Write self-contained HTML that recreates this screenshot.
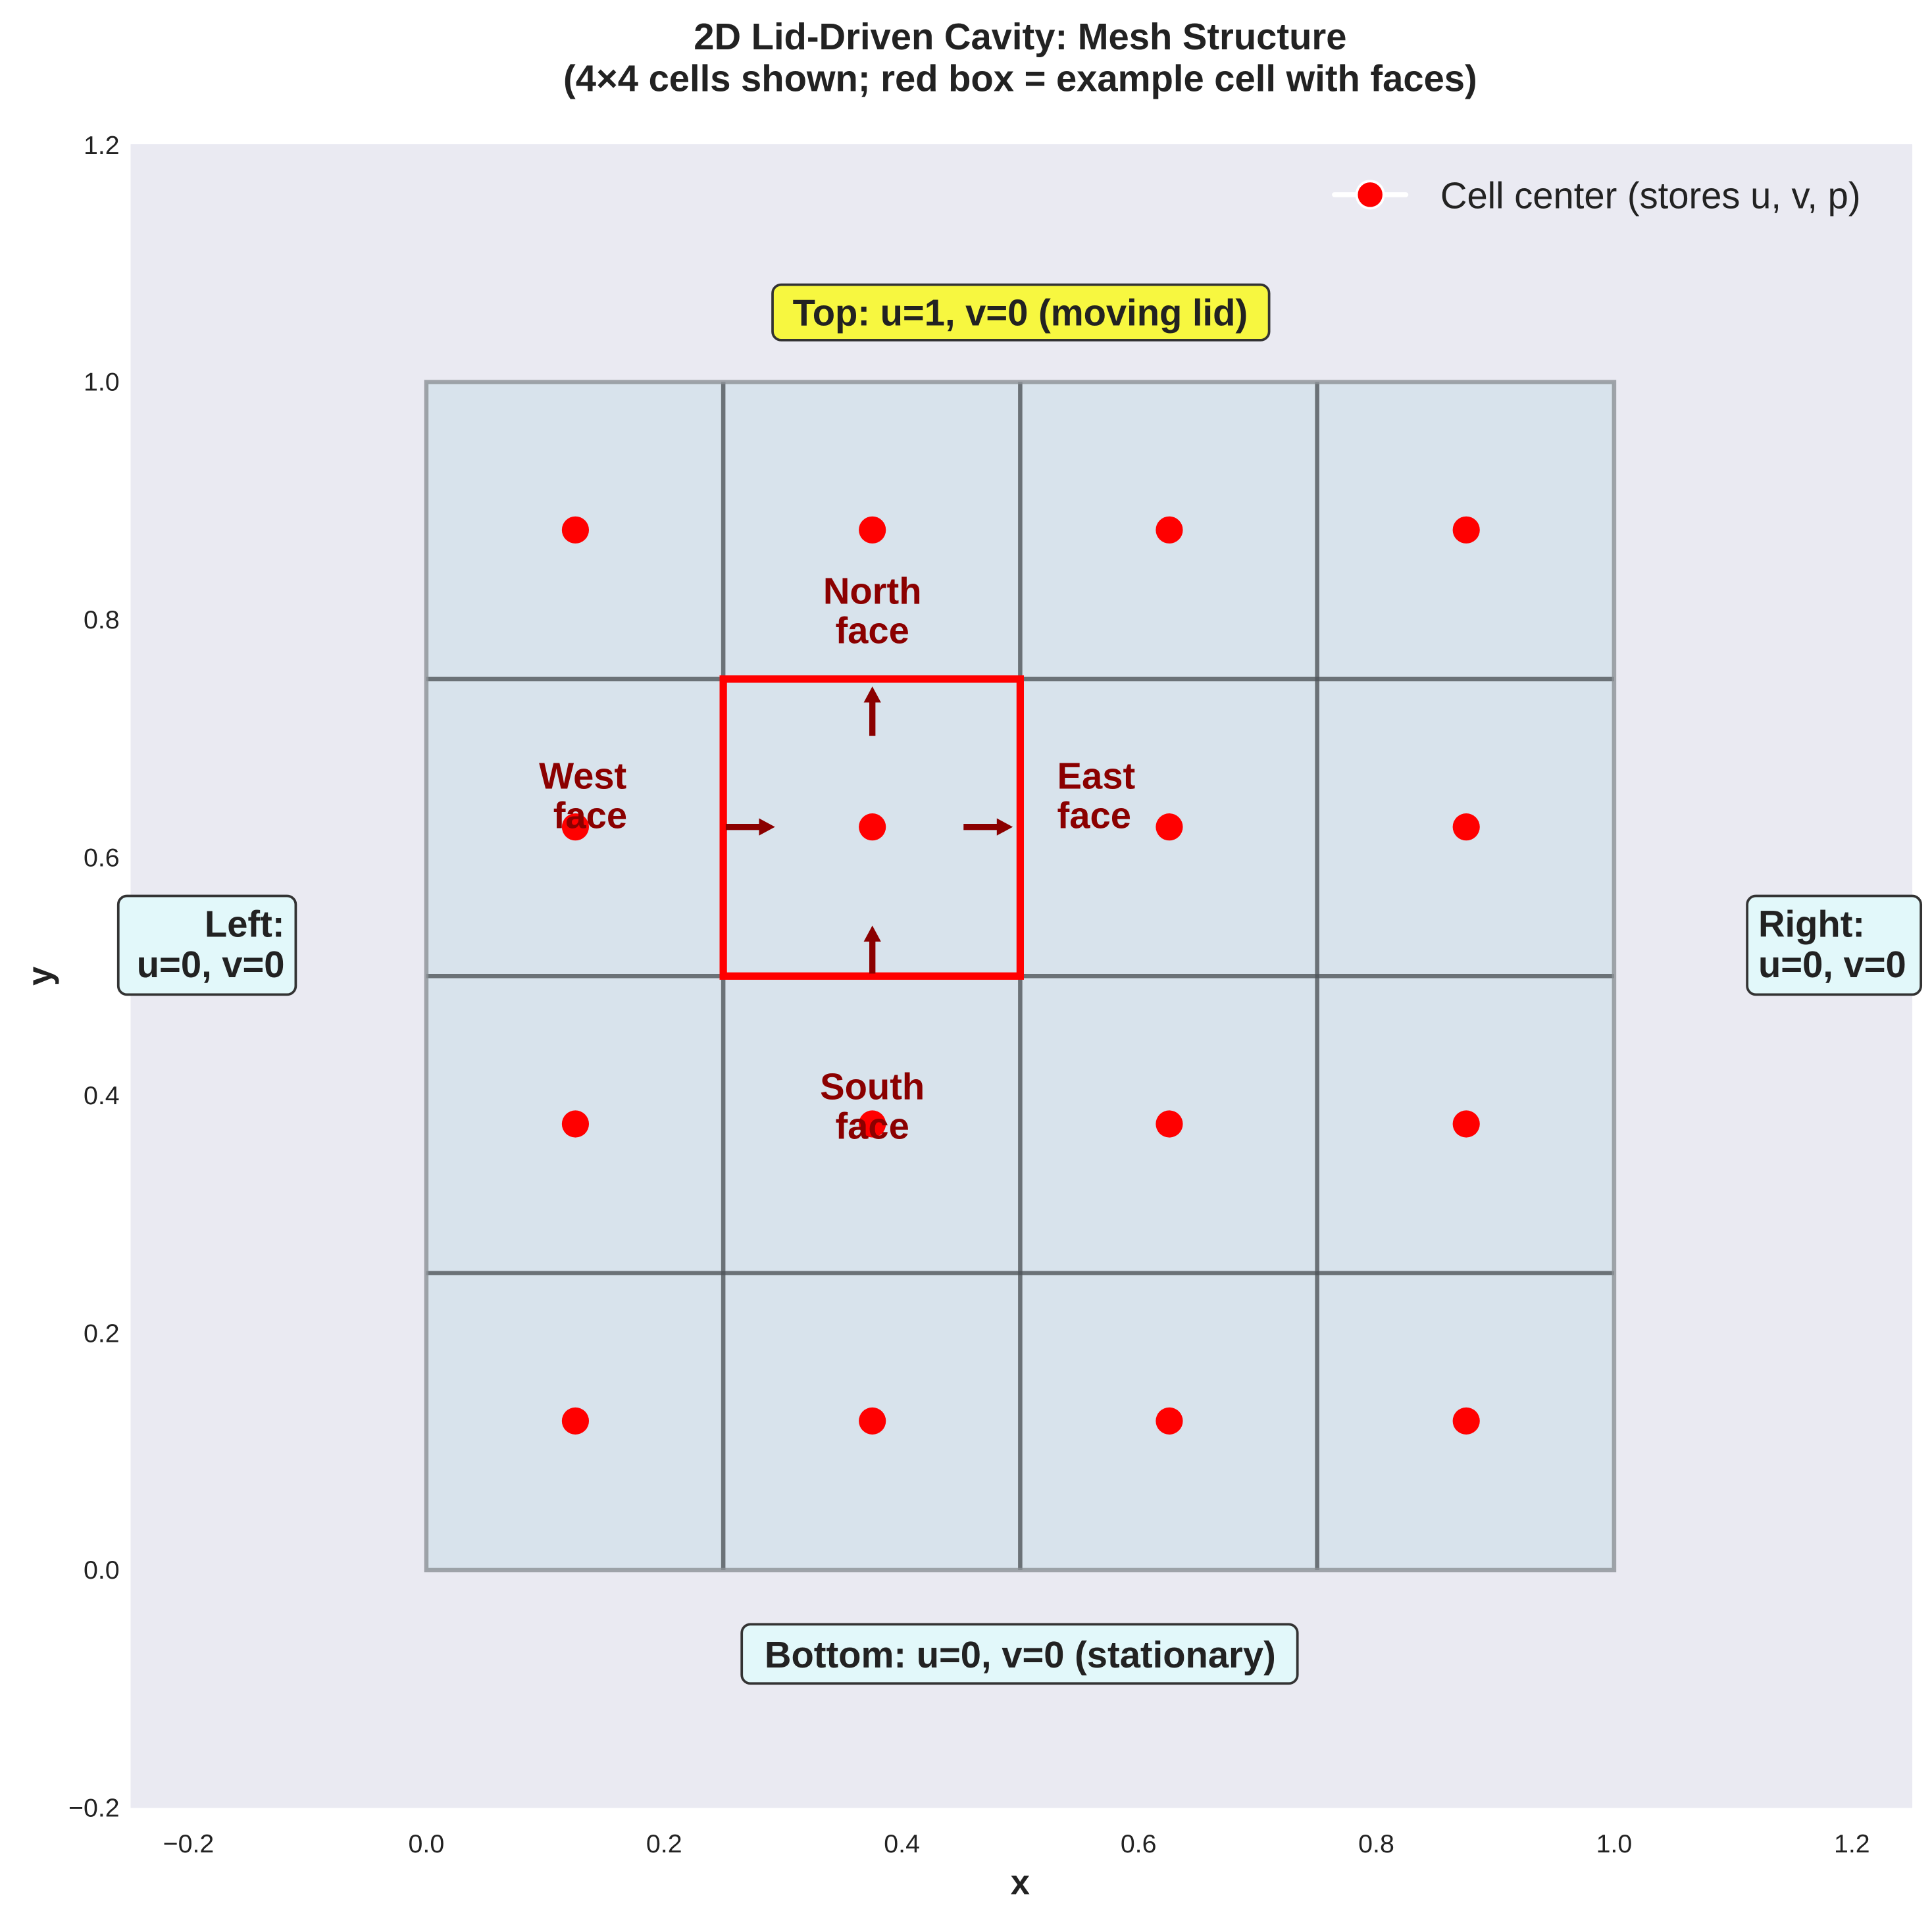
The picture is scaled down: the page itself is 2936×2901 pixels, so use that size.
<!DOCTYPE html>
<html><head><style>html,body{margin:0;padding:0;background:#fff}svg{display:block}</style></head>
<body>
<svg width="2936" height="2901" viewBox="0 0 1568 1549" preserveAspectRatio="none" xmlns="http://www.w3.org/2000/svg" font-family="Liberation Sans, DejaVu Sans, sans-serif">
<rect width="1568" height="1549" fill="#fff"/>
<rect x="106" y="117" width="1446" height="1350" fill="#eaeaf2"/>
<rect x="346" y="310" width="964" height="964" fill="#d8e3ec"/>
<g stroke="#50555a" stroke-opacity="0.8" stroke-width="3.5">
<line x1="587" y1="310" x2="587" y2="1274"/><line x1="828" y1="310" x2="828" y2="1274"/><line x1="1069" y1="310" x2="1069" y2="1274"/>
<line x1="346" y1="551" x2="1310" y2="551"/><line x1="346" y1="792" x2="1310" y2="792"/><line x1="346" y1="1033" x2="1310" y2="1033"/>
</g>
<rect x="346" y="310" width="964" height="964" fill="none" stroke="#8c9196" stroke-opacity="0.8" stroke-width="3.5"/>
<rect x="587" y="551" width="241" height="241" fill="none" stroke="#ff0000" stroke-width="6"/>
<g fill="#ff0000">
<circle cx="467" cy="430" r="11"/><circle cx="708" cy="430" r="11"/><circle cx="949" cy="430" r="11"/><circle cx="1190" cy="430" r="11"/>
<circle cx="467" cy="671" r="11"/><circle cx="708" cy="671" r="11"/><circle cx="949" cy="671" r="11"/><circle cx="1190" cy="671" r="11"/>
<circle cx="467" cy="912" r="11"/><circle cx="708" cy="912" r="11"/><circle cx="949" cy="912" r="11"/><circle cx="1190" cy="912" r="11"/>
<circle cx="467" cy="1153" r="11"/><circle cx="708" cy="1153" r="11"/><circle cx="949" cy="1153" r="11"/><circle cx="1190" cy="1153" r="11"/>
</g>
<g stroke="#8b0000" stroke-width="5" fill="#8b0000">
<line x1="708" y1="597" x2="708" y2="568"/><polygon points="701,570 715,570 708,557" stroke="none"/>
<line x1="708" y1="790" x2="708" y2="762"/><polygon points="701,764 715,764 708,751" stroke="none"/>
<line x1="589" y1="671" x2="618" y2="671"/><polygon points="616,664 616,678 629,671" stroke="none"/>
<line x1="782" y1="671" x2="811" y2="671"/><polygon points="809,664 809,678 822,671" stroke="none"/>
</g>
<g fill="#8b0000" font-weight="bold" font-size="30">
<text x="708" y="490" text-anchor="middle">North</text><text x="708" y="522" text-anchor="middle">face</text>
<text x="473" y="640" text-anchor="middle">West</text><text x="479" y="672" text-anchor="middle">face</text>
<text x="858" y="640">East</text><text x="858" y="672">face</text>
<text x="708" y="892" text-anchor="middle">South</text><text x="708" y="924" text-anchor="middle">face</text>
</g>
<g font-weight="bold" font-size="30" fill="#222">
<rect x="627" y="231" width="403" height="45" rx="7" fill="#f7f740" stroke="#333" stroke-width="2"/>
<text x="828" y="264" text-anchor="middle">Top: u=1, v=0 (moving lid)</text>
<rect x="602" y="1318" width="451" height="48" rx="7" fill="#e2f8fa" stroke="#333" stroke-width="2"/>
<text x="828" y="1353" text-anchor="middle">Bottom: u=0, v=0 (stationary)</text>
<rect x="96" y="727" width="144" height="80" rx="7" fill="#e2f8fa" stroke="#333" stroke-width="2"/>
<text x="231" y="760" text-anchor="end">Left:</text><text x="231" y="793" text-anchor="end">u=0, v=0</text>
<rect x="1418" y="727" width="141" height="80" rx="7" fill="#e2f8fa" stroke="#333" stroke-width="2"/>
<text x="1427" y="760">Right:</text><text x="1427" y="793">u=0, v=0</text>
</g>
<g font-size="21" fill="#222">
<text x="153" y="1503" text-anchor="middle">−0.2</text><text x="346" y="1503" text-anchor="middle">0.0</text><text x="539" y="1503" text-anchor="middle">0.2</text><text x="732" y="1503" text-anchor="middle">0.4</text><text x="924" y="1503" text-anchor="middle">0.6</text><text x="1117" y="1503" text-anchor="middle">0.8</text><text x="1310" y="1503" text-anchor="middle">1.0</text><text x="1503" y="1503" text-anchor="middle">1.2</text>
<g text-anchor="end"><text x="97" y="1474">−0.2</text><text x="97" y="1281">0.0</text><text x="97" y="1089">0.2</text><text x="97" y="896">0.4</text><text x="97" y="703">0.6</text><text x="97" y="510">0.8</text><text x="97" y="317">1.0</text><text x="97" y="125">1.2</text></g>
</g>
<text x="828" y="1537" text-anchor="middle" font-weight="bold" font-size="28" fill="#222">x</text>
<text transform="translate(42,792) rotate(-90)" text-anchor="middle" font-weight="bold" font-size="28" fill="#222">y</text>
<text x="828" y="40" text-anchor="middle" font-weight="bold" font-size="30" fill="#222">2D Lid-Driven Cavity: Mesh Structure</text>
<text x="828" y="74" text-anchor="middle" font-weight="bold" font-size="30" fill="#222">(4×4 cells shown; red box = example cell with faces)</text>
<line x1="1083" y1="158" x2="1141" y2="158" stroke="#fff" stroke-width="4" stroke-linecap="round"/>
<circle cx="1112" cy="158" r="11" fill="#ff0000" stroke="#fff" stroke-width="2"/>
<text x="1169" y="169" font-size="30" fill="#222">Cell center (stores u, v, p)</text>
</svg>
</body></html>
